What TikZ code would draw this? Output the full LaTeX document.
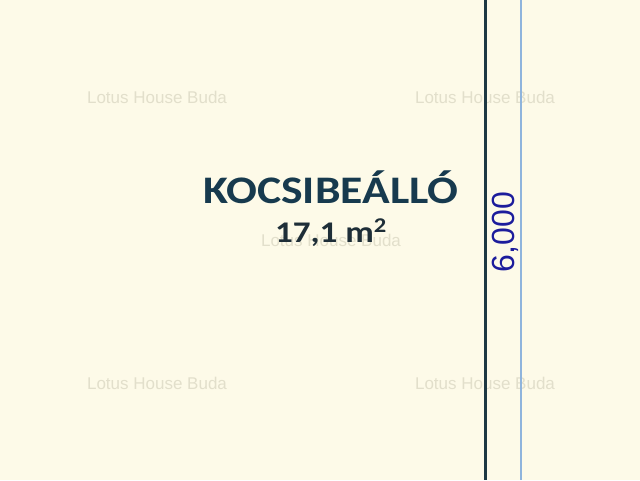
\documentclass[tikz,border=0pt]{standalone}
\usepackage{fontspec}
\setmainfont{Carlito}
\newfontfamily\arialf{Liberation Sans}
\definecolor{bgc}{HTML}{FDFAE8}
\definecolor{titlec}{HTML}{173A4E}
\definecolor{areac}{HTML}{1E2E38}
\definecolor{wallc}{HTML}{1E3842}
\definecolor{dimc}{HTML}{1C1C9C}
\definecolor{dimline}{HTML}{8FB4DC}
\definecolor{wmc}{HTML}{E2DFCB}
\tikzset{
  wm/.style={font=\arialf\fontsize{17}{19}\selectfont, text=wmc, inner sep=0pt},
  wall/.style={draw=wallc, line width=3pt},
  dimln/.style={draw=dimline, line width=1.5pt},
}
\begin{document}
\begin{tikzpicture}[x=1pt,y=-1pt]
\fill[bgc] (0,0) rectangle (640,480);
\useasboundingbox (0,0) rectangle (640,480);
\node[wm] (w1) at (157,97) {Lotus House Buda};
\node[wm] (w2) at (485,97) {Lotus House Buda};
\node[wm] (w3) at (157,383) {Lotus House Buda};
\node[wm] (w4) at (485,383) {Lotus House Buda};
\node[wm] (w5) at (331,240) {Lotus House Buda};
\coordinate (wt) at (485,0);
\coordinate (wb) at (485,480);
\draw[wall] (wt) -- (wb);
\coordinate (dt) at (521,0);
\coordinate (db) at (521,480);
\draw[dimln] (dt) -- (db);
\node[font=\bfseries\fontsize{39}{44}\selectfont, text=titlec, inner sep=0pt, anchor=base] (title) at (331,203) {\scalebox{1.17}[1]{KOCSIBEÁLLÓ}};
\node[font=\bfseries\fontsize{30}{34}\selectfont, text=areac, inner sep=0pt, anchor=base] (area) at (331,242) {\scalebox{1.17}[1]{17,1 m\textsuperscript{2}}};
\node[font=\arialf\fontsize{32}{36}\selectfont, text=dimc, rotate=90, inner sep=0pt] (dim) at (505,232) {6,000};
\end{tikzpicture}
\end{document}
